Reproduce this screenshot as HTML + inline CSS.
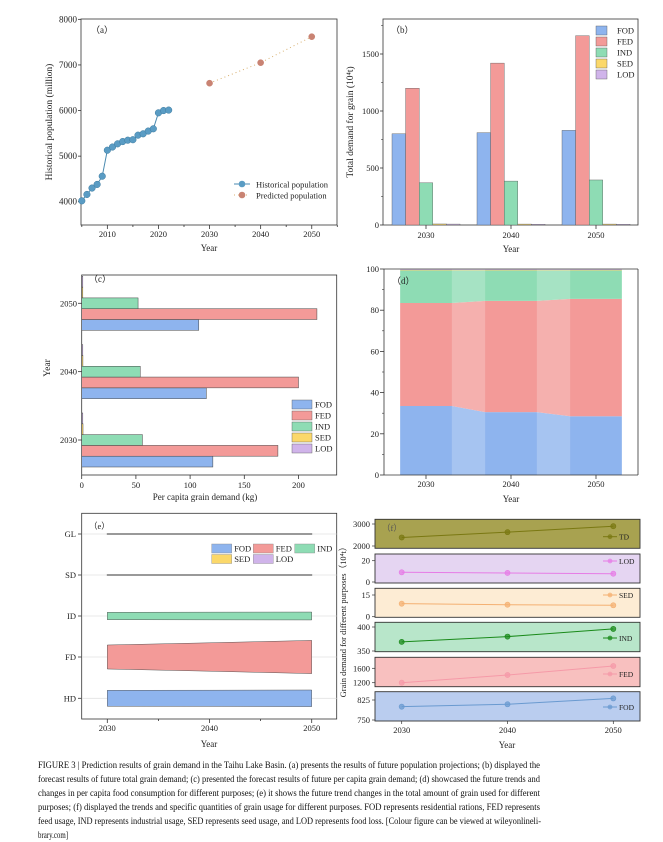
<!DOCTYPE html>
<html><head><meta charset="utf-8">
<style>
html,body{margin:0;padding:0;background:#fff;}
svg{display:block;font-family:"Liberation Serif",serif;}
</style></head>
<body>
<svg id="fig" width="663" height="842" viewBox="0 0 663 842" xmlns="http://www.w3.org/2000/svg"></svg>
<script>
// ---- Data ----
const popYears=[2005,2006,2007,2008,2009,2010,2011,2012,2013,2014,2015,2016,2017,2018,2019,2020,2021,2022];
const popHist=[4020,4160,4300,4380,4560,5130,5200,5270,5320,5350,5360,5460,5490,5550,5600,5950,6000,6010];
const predYears=[2030,2040,2050];
const popPred=[6600,7050,7620];
const years=[2030,2040,2050];
const seriesNames=["FOD","FED","IND","SED","LOD"];
const totFOD=[800,810,830];
const totFED=[1200,1420,1660];
const totIND=[370,385,395];
const totSED=[9,8,8];
const totLOD=[8,7,7];
const pcFOD=[121,115,108];
const pcFED=[181,200,217];
const pcIND=[56,54,52];
const pcSED=[1.2,1.1,1];
const pcLOD=[1,1,1];
const shFOD=[33.5,30.5,28.5];
const shFED=[50,54,57];
const shIND=[15.8,14.8,13.8];
const shSED=[0.3,0.3,0.3];
const shLOD=[0.3,0.3,0.3];
const fTD=[2387,2630,2900];
const fLOD=[9.1,8.5,7.8];
const fSED=[9.0,8.3,7.9];
const fIND=[369,380,396];
const fFED=[1200,1414,1664];
const fFOD=[800,809,831];
const popTicks=[4000,5000,6000,7000,8000];
const yearTicksA=[2010,2020,2030,2040,2050];
const bTicks=[0,500,1000,1500];
const cTicks=[0,50,100,150,200];
const dTicks=[0,20,40,60,80,100];
const eCats=["GL","SD","ID","FD","HD"];

const NS="http://www.w3.org/2000/svg";
const svg=document.getElementById('fig');
const colors=["#8eb4ee","#f39a98","#8edcb4","#fbd86a","#d0b4ea"];
function mk(tag,attrs,parent){const e=document.createElementNS(NS,tag);for(const k in attrs)e.setAttribute(k,attrs[k]);(parent||svg).appendChild(e);return e;}
function tx(x,y,s,attrs,parent){const e=mk('text',Object.assign({x:x,y:y,'font-size':9,fill:'#222'},attrs||{}),parent);e.textContent=s;return e;}
function grp(name){const g=mk('g',{});return g;}
function box(g,x0,y0,x1,y1){const r=mk('rect',{x:x0,y:y0,width:x1-x0,height:y1-y0,fill:'none',stroke:'#333','stroke-width':0.8},g);}

// ---- Panel (a) ----
(function(){
const g=grp('panel-a-population');
const xa=y=>81.8+(y-2005)*5.11, ya=v=>225-(v-3490)*0.0456;
box(g,81,19,337,225);
popTicks.forEach(v=>{mk('line',{x1:81,x2:78,y1:ya(v),y2:ya(v),stroke:'#333','stroke-width':0.8},g);const t=tx(77,ya(v)+3,String(v),{'text-anchor':'end'},g);});
for(let y=2005;y<=2055;y+=5){mk('line',{x1:xa(y),x2:xa(y),y1:225,y2:y%10===0?229:227,stroke:'#333','stroke-width':0.8},g);}
yearTicksA.forEach(y=>{const t=tx(xa(y),237,String(y),{'text-anchor':'middle','font-size':8.5},g);});
const pl=mk('polyline',{points:popYears.map((y,i)=>xa(y)+','+ya(popHist[i])).join(' '),fill:'none',stroke:'#4a8ab0','stroke-width':1},g);

popYears.forEach((y,i)=>{const c=mk('circle',{cx:xa(y),cy:ya(popHist[i]),r:3.3,fill:'#5a9cc4',stroke:'#3d7ba0','stroke-width':0.5},g);});
const pp=mk('polyline',{points:predYears.map((y,i)=>xa(y)+','+ya(popPred[i])).join(' '),fill:'none',stroke:'#d8b070','stroke-width':1,'stroke-dasharray':'1 3'},g);

predYears.forEach((y,i)=>{const c=mk('circle',{cx:xa(y),cy:ya(popPred[i]),r:3.3,fill:'#c98373'},g);});
tx(91,33,'（a）',{'font-size':9},g);
mk('line',{x1:234,x2:250,y1:184,y2:184,stroke:'#4a8ab0'},g);mk('circle',{cx:242,cy:184,r:3.3,fill:'#5a9cc4'},g);
const l1=tx(256,187.5,'Historical population',{'font-size':8.5},g);
mk('line',{x1:234,x2:250,y1:195,y2:195,stroke:'#d8b070','stroke-dasharray':'1 3'},g);mk('circle',{cx:242,cy:195,r:3.3,fill:'#c98373'},g);
const l2=tx(256,198.5,'Predicted population',{'font-size':8.5},g);
const yt=tx(0,0,'Historical population (million)',{'font-size':9.5,'text-anchor':'middle',transform:'translate(52,122) rotate(-90)'},g);
const xt=tx(209,251,'Year',{'font-size':9,'text-anchor':'middle'},g);
})();

// ---- Panel (b) ----
(function(){
const g=grp('panel-b-total-demand');
const yb=v=>225-v*0.114, xb=y=>426+(y-2030)*8.5;
const data=[totFOD,totFED,totIND,totSED,totLOD];
box(g,383,19,638,225);
bTicks.forEach(v=>{mk('line',{x1:383,x2:380,y1:yb(v),y2:yb(v),stroke:'#333','stroke-width':0.8},g);const t=tx(379,yb(v)+3,String(v),{'text-anchor':'end','font-size':8.5},g);});
for(let v=250;v<1800;v+=500)mk('line',{x1:383,x2:381,y1:yb(v),y2:yb(v),stroke:'#333','stroke-width':0.6},g);
years.forEach((y,j)=>{mk('line',{x1:xb(y),x2:xb(y),y1:225,y2:229,stroke:'#333','stroke-width':0.8},g);const t=tx(xb(y),238,String(y),{'text-anchor':'middle','font-size':8.5},g);
data.forEach((s,i)=>{const x=xb(y)-34+i*13.6;const r=mk('rect',{x:x,y:yb(s[j]),width:13.6,height:225-yb(s[j]),fill:colors[i],stroke:'#555','stroke-width':0.4},g);});});
tx(391,33,'（b）',{'font-size':9},g);
seriesNames.forEach((n,i)=>{const r=mk('rect',{x:596,y:26+i*11,width:11,height:9,fill:colors[i],stroke:'#555','stroke-width':0.4},g);tx(617,33.5+i*11,n,{'font-size':8.5},g);});
const yt=tx(0,0,'Total demand for grain (10⁴t)',{'font-size':9.5,'text-anchor':'middle',transform:'translate(353,122) rotate(-90)'},g);
const xt=tx(511,252,'Year',{'font-size':9,'text-anchor':'middle'},g);
})();

// ---- Panel (c) ----
(function(){
const g=grp('panel-c-per-capita');
const xc=v=>81.7+v*1.084, yc=y=>440-(y-2030)*6.835;
const data=[pcFOD,pcFED,pcIND,pcSED,pcLOD];
const offs=[21.6,10.8,0,-10.8,-21.6];
box(g,81.7,275,336.7,475);
cTicks.forEach(v=>{mk('line',{x1:xc(v),x2:xc(v),y1:475,y2:479,stroke:'#333','stroke-width':0.8},g);const t=tx(xc(v),488,String(v),{'text-anchor':'middle','font-size':8.5},g);});
years.forEach((y,j)=>{mk('line',{x1:81.7,x2:78,y1:yc(y),y2:yc(y),stroke:'#333','stroke-width':0.8},g);const t=tx(77,yc(y)+3,String(y),{'text-anchor':'end','font-size':8.5},g);
data.forEach((s,i)=>{const cy=yc(y)+offs[i];const r=mk('rect',{x:81.7,y:cy-5.4,width:xc(s[j])-81.7,height:10.8,fill:colors[i],stroke:'#444','stroke-width':0.5},g);});});
tx(89,282,'（c）',{'font-size':9},g);
seriesNames.forEach((n,i)=>{const r=mk('rect',{x:292,y:400+i*11,width:20,height:9,fill:colors[i],stroke:'#555','stroke-width':0.4},g);tx(315,407.5+i*11,n,{'font-size':8.5},g);});
const yt=tx(0,0,'Year',{'font-size':9.5,'text-anchor':'middle',transform:'translate(50,368) rotate(-90)'},g);
const xt=tx(205,500,'Per capita grain demand (kg)',{'font-size':9,'text-anchor':'middle'},g);
})();

// ---- Panel (d) ----
(function(){
const g=grp('panel-d-share');
const yd=p=>475-p*2.06, xd=y=>426+(y-2030)*8.5, hw=25.85;
const data=[shFOD,shFED,shIND,shSED,shLOD];
const dcol=["#8eb4ee","#f39a98","#8edcb4","#f7d27a","#d0b4ea"];
let cum=[0,0,0];
data.forEach((s,i)=>{const bot=cum.slice();const top=cum.map((c,j)=>c+s[j]);cum=top;
const tp=[],bp=[];years.forEach((y,j)=>{tp.push((xd(y)-hw)+','+yd(top[j]),(xd(y)+hw)+','+yd(top[j]));});
for(let j=years.length-1;j>=0;j--){bp.push((xd(years[j])+hw)+','+yd(bot[j]),(xd(years[j])-hw)+','+yd(bot[j]));}
const p=mk('polygon',{points:tp.concat(bp).join(' '),fill:dcol[i]},g);});
for(let j=0;j<years.length-1;j++){mk('rect',{x:xd(years[j])+hw,y:yd(100),width:xd(years[j+1])-xd(years[j])-2*hw,height:yd(0)-yd(100),fill:'#fff',opacity:0.22},g);}
mk('line',{x1:384,x2:384,y1:269,y2:475,stroke:'#333','stroke-width':0.8},g);
mk('line',{x1:384,x2:638,y1:475,y2:475,stroke:'#333','stroke-width':0.8},g);
mk('line',{x1:384,x2:638,y1:269,y2:269,stroke:'#333','stroke-width':0.8},g);
mk('line',{x1:638,x2:638,y1:269,y2:475,stroke:'#333','stroke-width':0.8},g);
dTicks.forEach(v=>{mk('line',{x1:384,x2:380,y1:yd(v),y2:yd(v),stroke:'#333','stroke-width':0.8},g);const t=tx(379,yd(v)+3,String(v),{'text-anchor':'end','font-size':8.5},g);});
for(let v=10;v<100;v+=20)mk('line',{x1:384,x2:382,y1:yd(v),y2:yd(v),stroke:'#333','stroke-width':0.6},g);
years.forEach(y=>{mk('line',{x1:xd(y),x2:xd(y),y1:475,y2:479,stroke:'#333','stroke-width':0.8},g);const t=tx(xd(y),487,String(y),{'text-anchor':'middle','font-size':8.5},g);});
tx(392,284,'（d）',{'font-size':9},g);
const xt=tx(511,502,'Year',{'font-size':9,'text-anchor':'middle'},g);
})();

// ---- Panel (e) ----
(function(){
const g=grp('panel-e-bands');
const xe=y=>107.3+(y-2030)*10.22;
const catY=[534,575,616,657,698.3];
const data=[totLOD,totSED,totIND,totFED,totFOD];
const ecol=[colors[4],colors[3],colors[2],colors[1],colors[0]];
box(g,81.7,513.3,336.7,719);
catY.forEach((cy,i)=>{mk('line',{x1:81.7,x2:336.7,y1:cy,y2:cy,stroke:'#e2e2e2','stroke-width':0.8},g);mk('line',{x1:81.7,x2:78,y1:cy,y2:cy,stroke:'#333','stroke-width':0.8},g);const t=tx(76,cy+3,eCats[i],{'text-anchor':'end','font-size':8.5},g);
const s=data[i];const top=years.map((y,j)=>xe(y)+','+(cy-Math.max(s[j]*0.01,0.5)));const bot=years.slice().reverse().map((y,k)=>{const j=years.length-1-k;return xe(y)+','+(cy+Math.max(s[j]*0.01,0.5));});
const p=mk('polygon',{points:top.concat(bot).join(' '),fill:ecol[i],stroke:i<2?'#999':'#555','stroke-width':i<2?1:0.5},g);});
for(let y=2030;y<=2050;y+=5){mk('line',{x1:xe(y),x2:xe(y),y1:719,y2:y%10===0?723:721,stroke:'#333','stroke-width':0.8},g);}
years.forEach(y=>{const t=tx(xe(y),731,String(y),{'text-anchor':'middle','font-size':8.5},g);});
tx(89,529,'（e）',{'font-size':8.5},g);
const lx=[211.7,253.3,294.7,211.7,253.3],ly=[544,544,544,554.5,554.5];
seriesNames.forEach((n,i)=>{const r=mk('rect',{x:lx[i],y:ly[i],width:20,height:9,fill:colors[i],stroke:'#888','stroke-width':0.4},g);tx(lx[i]+22.5,ly[i]+7.5,n,{'font-size':8.5},g);});
const xt=tx(209,747,'Year',{'font-size':9,'text-anchor':'middle'},g);
})();

// ---- Panel (f) ----
(function(){
const g=grp('panel-f-small-multiples');
const xf=y=>401.7+(y-2030)*10.58;
const subs=[
 {n:'TD',d:fTD,top:519.3,bot:548.3,t:[2000,3000],ty:[546,524],bg:'#a8a250',lc:'#7a7812',ly:536.7},
 {n:'LOD',d:fLOD,top:554,bot:583,t:[0,20],ty:[582,560.7],bg:'#e5d5f2',lc:'#e67ce6',ly:561},
 {n:'SED',d:fSED,top:588.3,bot:617.3,t:[0,15],ty:[616.7,595],bg:'#fdecd4',lc:'#f4b072',ly:595},
 {n:'IND',d:fIND,top:622.3,bot:651.7,t:[350,400],ty:[651,627],bg:'#b8e6ca',lc:'#1a8a1a',ly:638},
 {n:'FED',d:fFED,top:657.3,bot:686.7,t:[1200,1600],ty:[682.7,668.3],bg:'#f8c0bf',lc:'#f59aa8',ly:674},
 {n:'FOD',d:fFOD,top:691.7,bot:721,t:[750,825],ty:[720,700],bg:'#bacdef',lc:'#6a9ad0',ly:707}];
subs.forEach(s=>{const sg=mk('g',{},g);
const sc=v=>s.ty[0]+(v-s.t[0])*(s.ty[1]-s.ty[0])/(s.t[1]-s.t[0]);
mk('rect',{x:375,y:s.top,width:265,height:s.bot-s.top,fill:s.bg,stroke:'#333','stroke-width':0.9},sg);
s.t.forEach((v,k)=>{mk('line',{x1:375,x2:372,y1:s.ty[k],y2:s.ty[k],stroke:'#333','stroke-width':0.7},sg);tx(370,s.ty[k]+3,String(v),{'text-anchor':'end','font-size':8.5},sg);});
const pl=mk('polyline',{points:years.map((y,j)=>xf(y)+','+sc(s.d[j])).join(' '),fill:'none',stroke:s.lc,'stroke-width':1},sg);
years.forEach((y,j)=>{const c=mk('circle',{cx:xf(y),cy:sc(s.d[j]),r:2.6,fill:s.lc,'fill-opacity':0.75,stroke:s.lc,'stroke-width':0.6},sg);});
mk('line',{x1:603,x2:617,y1:s.ly,y2:s.ly,stroke:s.lc,'stroke-width':1},sg);mk('circle',{cx:610,cy:s.ly,r:2.4,fill:s.lc,'fill-opacity':0.75},sg);
tx(619,s.ly+3,s.n,{'font-size':7.5},sg);});
years.forEach(y=>{mk('line',{x1:xf(y),x2:xf(y),y1:721,y2:724,stroke:'#333','stroke-width':0.7},g);const t=tx(xf(y),733,String(y),{'text-anchor':'middle','font-size':8.5},g);});
tx(382,531,'（f）',{'font-size':8.5,fill:'#555'},g);
const yt=tx(0,0,'Grain demand for different purposes（10⁴t）',{'font-size':8.5,'text-anchor':'middle',transform:'translate(346,620) rotate(-90)'},g);
const xt=tx(507,748,'Year',{'font-size':9,'text-anchor':'middle'},g);
})();

// ---- Caption ----
(function(){
const g=grp('figure-caption');
const lines=[
 ['FIGURE 3 | Prediction results of grain demand in the Taihu Lake Basin. (a) presents the results of future population projections; (b) displayed the',502],
 ['forecast results of future total grain demand; (c) presented the forecast results of future per capita grain demand; (d) showcased the future trends and',502],
 ['changes in per capita food consumption for different purposes; (e) it shows the future trend changes in the total amount of grain used for different',502],
 ['purposes; (f) displayed the trends and specific quantities of grain usage for different purposes. FOD represents residential rations, FED represents',502],
 ['feed usage, IND represents industrial usage, SED represents seed usage, and LOD represents food loss. [Colour figure can be viewed at wileyonlineli-',503],
 ['brary.com]',30]];
lines.forEach((l,i)=>{const t=tx(38,768+i*14,l[0],{'font-size':9.5,textLength:l[1],lengthAdjust:'spacingAndGlyphs',fill:'#111'},g);});
})();
</script>
</body></html>
